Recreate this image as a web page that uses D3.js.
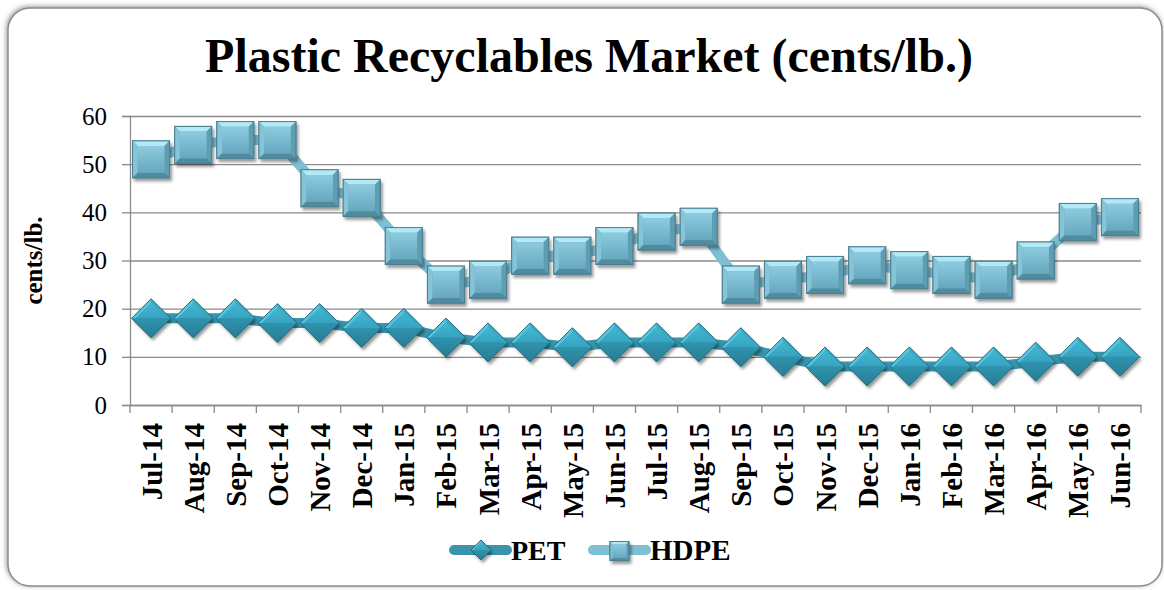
<!DOCTYPE html>
<html>
<head>
<meta charset="utf-8">
<script src="https://cdn.jsdelivr.net/npm/d3@7"></script>
<style>
  body { margin: 0; background: #fff; }
  svg { display: block; }
  svg text { font-family: "Liberation Serif", "Times New Roman", serif !important; fill: #000; }
</style>
</head>
<body>
<div id="chart"></div>
<script>
var months = ["Jul-14","Aug-14","Sep-14","Oct-14","Nov-14","Dec-14","Jan-15","Feb-15","Mar-15","Apr-15","May-15","Jun-15",
              "Jul-15","Aug-15","Sep-15","Oct-15","Nov-15","Dec-15","Jan-16","Feb-16","Mar-16","Apr-16","May-16","Jun-16"];
var pet  = [18, 18, 18, 17, 17, 16, 16, 14, 13, 13, 12, 13, 13, 13, 12, 10, 8, 8, 8, 8, 8, 9, 10, 10];
var hdpe = [51, 54, 55, 55, 45, 43, 33, 25, 26, 31, 31, 33, 36, 37, 25, 26, 27, 29, 28, 27, 26, 30, 38, 39];
var yTicks = [0, 10, 20, 30, 40, 50, 60];
var seriesNames = ["PET", "HDPE"];

var w = 1164;
var h = 590;
var pLeft = 130, pRight = 1141, pTop = 116, pBottom = 405;

var svg = d3.select("#chart").append("svg")
  .attr("width", w)
  .attr("height", h);

var defs = svg.append("defs");

var sh = defs.append("filter").attr("id", "shadow")
  .attr("x", "-30%").attr("y", "-30%").attr("width", "170%").attr("height", "170%");
sh.append("feDropShadow").attr("dx", 2).attr("dy", 3).attr("stdDeviation", 1.8)
  .attr("flood-color", "#000").attr("flood-opacity", 0.4);

var fsh = defs.append("filter").attr("id", "frameShadow")
  .attr("x", "-5%").attr("y", "-5%").attr("width", "110%").attr("height", "110%");
fsh.append("feDropShadow").attr("dx", -1).attr("dy", -1).attr("stdDeviation", 2.5)
  .attr("flood-color", "#6d6a64").attr("flood-opacity", 0.7);

function grad(id, c1, c2) {
  var g = defs.append("linearGradient").attr("id", id)
    .attr("x1", 0).attr("y1", 0).attr("x2", 0).attr("y2", 1);
  g.append("stop").attr("offset", "0%").attr("stop-color", c1);
  g.append("stop").attr("offset", "100%").attr("stop-color", c2);
}
grad("sqFace", "#8ccbdf", "#67a8bf");
grad("dmTop", "#48bcd8", "#36a3c0");
grad("dmBot", "#2f93ad", "#277d94");

// outer frame
svg.append("rect")
  .attr("x", 8).attr("y", 8)
  .attr("width", 1154).attr("height", 578)
  .attr("rx", 22).attr("ry", 22)
  .attr("fill", "#fff")
  .attr("stroke", "#8d8d8d")
  .attr("stroke-width", 1.5)
  .attr("filter", "url(#frameShadow)");

svg.append("text")
  .attr("x", 589).attr("y", 72)
  .attr("text-anchor", "middle")
  .style("font-size", "48px")
  .style("font-weight", "bold")
  .text("Plastic Recyclables Market (cents/lb.)");

var x = d3.scaleBand().domain(months).range([pLeft, pRight]).padding(0);
var y = d3.scaleLinear().domain([0, 60]).range([pBottom, pTop]);
var bw = x.bandwidth();
function cx(d, i) { return x(months[i]) + bw / 2; }

// gridlines
svg.append("g")
  .attr("transform", "translate(" + pLeft + ",0)")
  .call(d3.axisLeft(y).tickValues(yTicks).tickSize(-(pRight - pLeft)).tickFormat(""))
  .call(function(g) {
    g.select(".domain").remove();
    g.selectAll(".tick line").attr("stroke", "#8a8a8a").attr("stroke-width", 1.3);
  });

// y axis
svg.append("g")
  .attr("transform", "translate(" + pLeft + ",0)")
  .call(d3.axisLeft(y).tickValues(yTicks).tickSize(8).tickPadding(15))
  .attr("font-family", null)
  .call(function(g) {
    g.select(".domain").attr("stroke", "#8a8a8a").attr("stroke-width", 1.3);
    g.selectAll(".tick line").attr("stroke", "#8a8a8a").attr("stroke-width", 1.3);
    g.selectAll(".tick text").style("font-size", "25px");
  });

// x axis
var xa = svg.append("g")
  .attr("transform", "translate(0," + pBottom + ")")
  .call(d3.axisBottom(x).tickSize(0).tickPadding(0))
  .attr("font-family", null)
  .call(function(g) {
    g.select(".domain").attr("stroke", "#8a8a8a").attr("stroke-width", 1.3);
    g.selectAll(".tick text")
      .attr("transform", "rotate(-90)")
      .attr("x", -18).attr("y", 0).attr("dy", "0.36em")
      .attr("text-anchor", "end")
      .style("font-size", "29px")
      .style("font-weight", "bold");
  });

xa.selectAll(".edge")
  .data(months.concat(["end"]))
  .enter().append("line")
  .attr("x1", function(d, i) { return i < months.length ? x(d) : x(months[months.length - 1]) + bw; })
  .attr("x2", function(d, i) { return i < months.length ? x(d) : x(months[months.length - 1]) + bw; })
  .attr("y1", 0).attr("y2", 8)
  .attr("stroke", "#8a8a8a").attr("stroke-width", 1.3);

svg.append("text")
  .attr("transform", "translate(42," + ((pTop + pBottom) / 2) + ") rotate(-90)")
  .attr("text-anchor", "middle")
  .style("font-size", "25px")
  .style("font-weight", "bold")
  .text("cents/lb.");

// lines
var line = d3.line()
  .x(function(d, i) { return cx(d, i); })
  .y(function(d) { return y(d); });

svg.append("path").datum(pet)
  .attr("d", line)
  .attr("fill", "none").attr("stroke", "#3895ad").attr("stroke-width", 10)
  .attr("stroke-linejoin", "round");

svg.append("path").datum(hdpe)
  .attr("d", line)
  .attr("fill", "none").attr("stroke", "#7ebfd3").attr("stroke-width", 10)
  .attr("stroke-linejoin", "round");

// marker drawing
function drawSquare(g, s) {
  var b = s * 0.14, hs = s / 2;
  g.append("rect").attr("x", -hs).attr("y", -hs).attr("width", s).attr("height", s)
    .attr("fill", "#6aaac0").attr("stroke", "#4c7f90").attr("stroke-width", 1)
    .attr("filter", "url(#shadow)");
  function poly(pts, fill) {
    g.append("polygon").attr("points", pts.map(function(p) { return p.join(","); }).join(" "))
      .attr("fill", fill);
  }
  poly([[-hs, -hs], [hs, -hs], [hs - b, -hs + b], [-hs + b, -hs + b]], "#b3e9f7");
  poly([[-hs, -hs], [-hs + b, -hs + b], [-hs + b, hs - b], [-hs, hs]], "#86c4d8");
  poly([[hs, -hs], [hs, hs], [hs - b, hs - b], [hs - b, -hs + b]], "#5e9db2");
  poly([[-hs, hs], [-hs + b, hs - b], [hs - b, hs - b], [hs, hs]], "#4f8ca0");
  g.append("rect").attr("x", -hs + b).attr("y", -hs + b)
    .attr("width", s - 2 * b).attr("height", s - 2 * b)
    .attr("fill", "url(#sqFace)");
  g.append("rect").attr("x", -hs).attr("y", -hs).attr("width", s).attr("height", s)
    .attr("fill", "none").attr("stroke", "#4c7f90").attr("stroke-width", 1);
}

function drawDiamond(g, r) {
  g.append("polygon")
    .attr("points", [[0, -r], [r, 0], [0, r], [-r, 0]].join(" "))
    .attr("fill", "#2f8fa8").attr("filter", "url(#shadow)");
  g.append("polygon").attr("points", [[0, -r], [r, 0], [-r, 0]].join(" ")).attr("fill", "url(#dmTop)");
  g.append("polygon").attr("points", [[-r, 0], [r, 0], [0, r]].join(" ")).attr("fill", "url(#dmBot)");
  g.append("polygon").attr("points", [[0, -r], [-r, 0], [-r * 0.8, 0], [0, -r * 0.8]].join(" "))
    .attr("fill", "#5ccae3").attr("opacity", 0.8);
  g.append("polygon").attr("points", [[0, -r], [r, 0], [r * 0.8, 0], [0, -r * 0.8]].join(" "))
    .attr("fill", "#3aa8c4").attr("opacity", 0.8);
  g.append("polygon")
    .attr("points", [[0, -r], [r, 0], [0, r], [-r, 0]].join(" "))
    .attr("fill", "none").attr("stroke", "#276c7e").attr("stroke-width", 1);
}

svg.selectAll(".pet")
  .data(pet)
  .enter().append("g")
  .attr("class", "pet")
  .attr("transform", function(d, i) { return "translate(" + cx(d, i) + "," + y(d) + ")"; })
  .each(function() { drawDiamond(d3.select(this), 19.5); });

svg.selectAll(".hdpe")
  .data(hdpe)
  .enter().append("g")
  .attr("class", "hdpe")
  .attr("transform", function(d, i) { return "translate(" + cx(d, i) + "," + y(d) + ")"; })
  .each(function() { drawSquare(d3.select(this), 37); });

// legend
var lg = svg.append("g").attr("transform", "translate(0,550)");
lg.append("line").attr("x1", 454).attr("x2", 507).attr("y1", 0).attr("y2", 0)
  .attr("stroke", "#3895ad").attr("stroke-width", 10).attr("stroke-linecap", "round");
drawDiamond(lg.append("g").attr("transform", "translate(481,0)"), 10);
lg.append("text").attr("x", 511).attr("y", 10)
  .style("font-size", "28px").style("font-weight", "bold").text(seriesNames[0]);

lg.append("line").attr("x1", 593).attr("x2", 646).attr("y1", 0).attr("y2", 0)
  .attr("stroke", "#7ebfd3").attr("stroke-width", 10).attr("stroke-linecap", "round");
drawSquare(lg.append("g").attr("transform", "translate(619.5,1)"), 19);
lg.append("text").attr("x", 650).attr("y", 10)
  .style("font-size", "29px").style("font-weight", "bold").text(seriesNames[1]);
</script>
</body>
</html>
